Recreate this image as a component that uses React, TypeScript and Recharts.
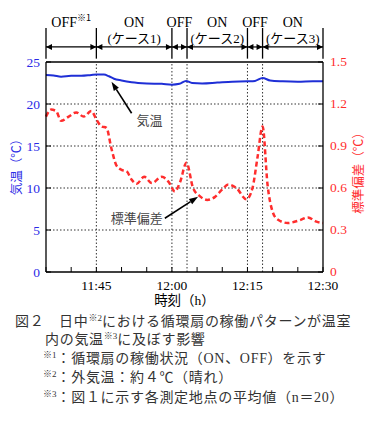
import React from 'react';
import { LineChart, Line, XAxis, YAxis, ReferenceLine } from 'recharts';

// minutes after 11:35
const tempMinutes = [0, 1.5, 3, 5, 7, 9, 10, 11.5, 12.5, 13.5, 15, 17, 20, 23, 25, 26.5, 27.8, 29, 31, 34, 37, 40, 41.5, 43, 44.5, 47, 50, 53, 55];
const tempValues = [23.45, 23.4, 23.25, 23.35, 23.35, 23.45, 23.5, 23.5, 23.3, 23.0, 22.8, 22.6, 22.45, 22.4, 22.3, 22.4, 22.75, 22.5, 22.45, 22.55, 22.65, 22.7, 22.75, 23.1, 22.8, 22.7, 22.65, 22.7, 22.7];

const sdMinutes = [0, 1, 2, 3, 4.5, 6, 7.5, 9, 10, 11, 12, 13, 14, 15, 16, 17, 18, 19.5, 21, 23, 24.3, 25.6, 26.6, 27.9, 29.2, 30.6, 32, 33.5, 35, 36.2, 37.8, 39.8, 41, 42, 43, 44, 45, 46, 48, 50.4, 52, 53.7, 55];
const sdValues = [1.11, 1.16, 1.15, 1.08, 1.11, 1.14, 1.11, 1.15, 1.09, 1.04, 1.03, 0.88, 0.76, 0.73, 0.72, 0.66, 0.63, 0.68, 0.635, 0.68, 0.645, 0.575, 0.64, 0.78, 0.6, 0.54, 0.515, 0.535, 0.59, 0.625, 0.6, 0.52, 0.6, 0.82, 1.04, 0.62, 0.43, 0.375, 0.35, 0.37, 0.39, 0.36, 0.35];

const xTicks = [0, 5, 10, 15, 20, 25, 30, 35, 40, 45, 50, 55];
const xTickLabels: Record<number, string> = { 10: '11:45', 25: '12:00', 40: '12:15', 55: '12:30' };
const leftTicks = [0, 5, 10, 15, 20, 25];
const rightTicks = [0, 0.3, 0.6, 0.9, 1.2, 1.5];
const gridX = [10, 25, 40, 28, 43];
const gridY = [5, 10, 15, 20];

const switchMinutes = [0, 10, 25, 28, 40, 43, 55];
const phaseState = ['OFF', 'ON', 'OFF', 'ON', 'OFF', 'ON'];
const phaseMark = ['※1', '', '', '', '', ''];
const phaseCase = ['', '(ケース1)', '', '(ケース2)', '', '(ケース3)'];

const BLUE = '#2a2ae6';
const RED = '#ff2d2d';
const SERIF = "'Liberation Serif', 'Noto Sans CJK JP', serif";
const JP = "'Noto Sans CJK JP', sans-serif";

const tempData = tempMinutes.map((t, i) => ({ t, temp: tempValues[i] }));
const sdData = sdMinutes.map((t, i) => ({ t, sd: sdValues[i] }));

const BottomTick = (p: any) => {
  const label = xTickLabels[p.payload.value];
  return (
    <g>
      <line x1={p.x} x2={p.x} y1={p.y} y2={p.y - 5} stroke="#000" />
      {label && (
        <text x={p.x} y={p.y + 17.5} textAnchor="middle" fontSize={13.5} fontFamily={SERIF} fill="#000">
          {label}
        </text>
      )}
    </g>
  );
};

const TopTick = (p: any) => <line x1={p.x} x2={p.x} y1={p.y} y2={p.y + 5} stroke="#000" />;

const LeftTick = (p: any) => (
  <g>
    <line x1={p.x} x2={p.x + 5} y1={p.y} y2={p.y} stroke="#000" />
    <text x={p.x - 6} y={p.y + 4.5} textAnchor="end" fontSize={13.5} fontFamily={SERIF} fill={BLUE}>
      {p.payload.value}
    </text>
  </g>
);

const RightTick = (p: any) => (
  <g>
    <line x1={p.x} x2={p.x - 5} y1={p.y} y2={p.y} stroke="#000" />
    <text x={p.x + 7} y={p.y + 4} textAnchor="start" fontSize={13.5} fontFamily={SERIF} fill={RED}>
      {p.payload.value}
    </text>
  </g>
);

const phaseArrow = (i: number) => (p: any) => {
  const { x1, x2, y1 } = p;
  const cx = (x1 + x2) / 2;
  const h = 6;
  const w = 3;
  return (
    <g>
      <line x1={x1} x2={x2} y1={y1} y2={y1} stroke="#000" strokeWidth={1.2} />
      <polygon points={`${x1},${y1} ${x1 + h},${y1 - w} ${x1 + h},${y1 + w}`} fill="#000" />
      <polygon points={`${x2},${y1} ${x2 - h},${y1 - w} ${x2 - h},${y1 + w}`} fill="#000" />
      <text x={cx} y={y1 - 20} textAnchor="middle" fontSize={14} fontFamily={SERIF} fill="#000">
        {phaseState[i]}
        {phaseMark[i] && (
          <tspan fontSize={9} dy={-6} fontFamily={JP}>
            {phaseMark[i]}
          </tspan>
        )}
      </text>
      {phaseCase[i] && (
        <text x={cx} y={y1 - 4} textAnchor="middle" fontSize={13} fontFamily={SERIF} fill="#000">
          {phaseCase[i]}
        </text>
      )}
    </g>
  );
};

const pointer = (text: string, dx: number, dy: number, anchor: 'start' | 'end') => (p: any) => {
  const { x1, y1, x2, y2 } = p;
  const ang = Math.atan2(y2 - y1, x2 - x1);
  const L = 9;
  const W = 3;
  const bx = x2 - L * Math.cos(ang);
  const by = y2 - L * Math.sin(ang);
  const px = -Math.sin(ang) * W;
  const py = Math.cos(ang) * W;
  return (
    <g>
      <line x1={x1} y1={y1} x2={bx} y2={by} stroke="#000" strokeWidth={1.6} />
      <polygon points={`${x2},${y2} ${bx + px},${by + py} ${bx - px},${by - py}`} fill="#000" />
      <text x={x1 + dx} y={y1 + dy} textAnchor={anchor} fontSize={13} fontFamily={JP} fill="#444">
        {text}
      </text>
    </g>
  );
};

const BottomTitle = (p: any) => {
  const vb = p.viewBox;
  return (
    <text x={vb.x + vb.width / 2} y={vb.y + 33} textAnchor="middle" fontSize={13.5} fontFamily={SERIF} fill="#000">
      時刻（h）
    </text>
  );
};

const LeftTitle = (p: any) => {
  const vb = p.viewBox;
  const cx = vb.x + 15;
  const cy = vb.y + vb.height / 2 - 3;
  return (
    <text x={cx} y={cy} textAnchor="middle" dominantBaseline="central" fontSize={12.5} fontFamily={JP} fill={BLUE} transform={`rotate(-90 ${cx} ${cy})`}>
      気温（℃）
    </text>
  );
};

const RightTitle = (p: any) => {
  const vb = p.viewBox;
  const cx = vb.x + 34;
  const cy = vb.y + vb.height / 2 + 3;
  return (
    <text x={cx} y={cy} textAnchor="middle" dominantBaseline="central" fontSize={12.5} fontFamily={JP} fill={RED} transform={`rotate(-90 ${cx} ${cy})`}>
      標準偏差（℃）
    </text>
  );
};

const captionStyle: React.CSSProperties = {
  position: 'absolute',
  fontSize: 14,
  lineHeight: '20px',
  letterSpacing: 0.7,
  fontFamily: SERIF,
  color: '#333',
  whiteSpace: 'nowrap',
};
const supStyle: React.CSSProperties = { fontSize: 9, verticalAlign: 'top', lineHeight: '12px', letterSpacing: 0 };

export default function App() {
  return (
    <div style={{ position: 'absolute', left: 0, top: 0, width: 366, height: 428, background: '#fff' }}>
      <LineChart width={366} height={312} margin={{ top: 60, right: 0, bottom: 0, left: 0 }}>
        <XAxis
          dataKey="t"
          type="number"
          domain={[0, 55]}
          ticks={xTicks}
          interval={0}
          tickSize={0}
          tickMargin={0}
          tickLine={false}
          tick={<BottomTick />}
          height={40}
          axisLine={{ stroke: '#000', strokeWidth: 1.3 }}
          label={BottomTitle}
        />
        <XAxis
          xAxisId="top"
          orientation="top"
          type="number"
          domain={[0, 55]}
          ticks={xTicks}
          interval={0}
          tickSize={0}
          tickMargin={0}
          tickLine={false}
          tick={<TopTick />}
          height={2}
          axisLine={{ stroke: '#000', strokeWidth: 1.3 }}
        />
        <YAxis
          yAxisId="left"
          domain={[0, 25]}
          ticks={leftTicks}
          interval={0}
          width={46}
          tickSize={0}
          tickMargin={0}
          tickLine={false}
          tick={<LeftTick />}
          axisLine={{ stroke: '#000', strokeWidth: 1.3 }}
          label={LeftTitle}
        />
        <YAxis
          yAxisId="right"
          orientation="right"
          domain={[0, 1.5]}
          ticks={rightTicks}
          interval={0}
          width={43}
          tickSize={0}
          tickMargin={0}
          tickLine={false}
          tick={<RightTick />}
          axisLine={{ stroke: '#000', strokeWidth: 1.3 }}
          label={RightTitle}
        />
        {gridY.map((v) => (
          <ReferenceLine key={`gy${v}`} yAxisId="left" y={v} stroke="#333" strokeDasharray="1.5 2" strokeWidth={1} />
        ))}
        {gridX.map((v) => (
          <ReferenceLine key={`gx${v}`} yAxisId="left" x={v} stroke="#333" strokeDasharray="1.5 2" strokeWidth={1} />
        ))}
        {switchMinutes.map((t) => (
          <ReferenceLine
            key={`bar${t}`}
            yAxisId="left"
            ifOverflow="visible"
            segment={[{ x: t, y: 29.05 }, { x: t, y: 25.4 }]}
            stroke="#000"
            strokeWidth={1.3}
          />
        ))}
        {phaseState.map((s, i) => (
          <ReferenceLine
            key={`ph${i}`}
            yAxisId="left"
            ifOverflow="visible"
            segment={[{ x: switchMinutes[i], y: 26.79 }, { x: switchMinutes[i + 1], y: 26.79 }]}
            shape={phaseArrow(i)}
          />
        ))}
        <ReferenceLine
          yAxisId="left"
          ifOverflow="visible"
          segment={[{ x: 17.0, y: 18.9 }, { x: 13.0, y: 22.65 }]}
          shape={pointer('気温', 5, 12, 'start')}
        />
        <ReferenceLine
          yAxisId="left"
          ifOverflow="visible"
          segment={[{ x: 23.6, y: 6.4 }, { x: 30.2, y: 8.96 }]}
          shape={pointer('標準偏差', -2, 5, 'end')}
        />
        <Line
          data={tempData}
          yAxisId="left"
          dataKey="temp"
          type="monotone"
          stroke="#1f2fd6"
          strokeWidth={2}
          dot={false}
          isAnimationActive={false}
        />
        <Line
          data={sdData}
          yAxisId="right"
          dataKey="sd"
          type="monotone"
          stroke={RED}
          strokeWidth={2.5}
          strokeDasharray="5 3"
          dot={false}
          isAnimationActive={false}
        />
      </LineChart>
      <div style={{ ...captionStyle, left: 15, top: 312 }}>
        図２　日中<sup style={supStyle}>※2</sup>における循環扇の稼働パターンが温室
      </div>
      <div style={{ ...captionStyle, left: 45, top: 330 }}>
        内の気温<sup style={supStyle}>※3</sup>に及ぼす影響
      </div>
      <div style={{ ...captionStyle, left: 43, top: 349 }}>
        <sup style={supStyle}>※1</sup>：循環扇の稼働状況（ON、OFF）を示す
      </div>
      <div style={{ ...captionStyle, left: 43, top: 368 }}>
        <sup style={supStyle}>※2</sup>：外気温：約４℃（晴れ）
      </div>
      <div style={{ ...captionStyle, left: 43, top: 388 }}>
        <sup style={supStyle}>※3</sup>：図１に示す各測定地点の平均値（n＝20）
      </div>
    </div>
  );
}
